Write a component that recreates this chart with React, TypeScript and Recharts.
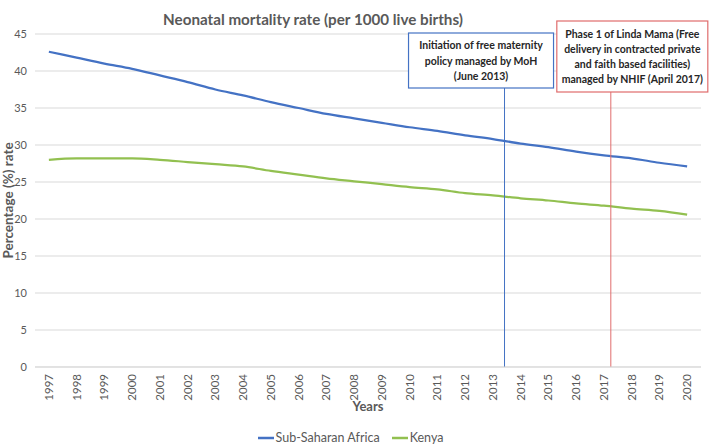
import React from 'react';
import { LineChart, Line, XAxis, YAxis, CartesianGrid, Legend, ReferenceLine, Label } from 'recharts';

const FONT = 'Lato, "Noto Sans", sans-serif';

const years = [1997, 1998, 1999, 2000, 2001, 2002, 2003, 2004, 2005, 2006, 2007, 2008, 2009, 2010, 2011, 2012, 2013, 2014, 2015, 2016, 2017, 2018, 2019, 2020];
const subSaharanAfrica = [42.6, 41.8, 41.0, 40.3, 39.4, 38.5, 37.5, 36.7, 35.8, 35.0, 34.2, 33.6, 33.0, 32.4, 31.9, 31.3, 30.8, 30.2, 29.7, 29.1, 28.6, 28.2, 27.6, 27.1];
const kenya = [28.0, 28.2, 28.2, 28.2, 28.0, 27.7, 27.4, 27.1, 26.5, 26.0, 25.5, 25.1, 24.7, 24.3, 24.0, 23.5, 23.2, 22.8, 22.5, 22.1, 21.8, 21.4, 21.1, 20.6];
const yTicks = [0, 5, 10, 15, 20, 25, 30, 35, 40, 45];
const seriesOrder = ['Sub-Saharan Africa', 'Kenya'];

const eventMoH = 2013.42; // June 2013
const eventNHIF = 2017.25; // April 2017
const mohText = ['Initiation of free maternity', 'policy managed by MoH', '(June 2013)'];
const nhifText = ['Phase 1 of Linda Mama (Free', 'delivery in contracted private', 'and faith based facilities)', 'managed by NHIF (April 2017)'];

const data = years.map((y, i) => ({ year: y, ssa: subSaharanAfrica[i], kenya: kenya[i] }));

const BLUE = '#4472C4';
const GREEN = '#92C050';
const RED = '#E06C6C';

const YearTick = (props: any) => {
  const { x, y, payload } = props;
  const ty = y + 7;
  return (
    <text
      x={x}
      y={ty}
      dy={4}
      transform={`rotate(-90, ${x}, ${ty})`}
      textAnchor="end"
      fontSize={11.5}
      fontFamily={FONT}
      fill="#595959"
    >
      {payload.value}
    </text>
  );
};

const makeBox = (lines: string[], color: string, left: number, right: number, top: number, bottom: number) =>
  (props: any) => {
    const vb = props.viewBox || {};
    const lx = vb.x;
    const x0 = lx + left;
    const x1 = lx + right;
    const y0 = vb.y + top;
    const y1 = vb.y + bottom;
    const cx = (x0 + x1) / 2;
    const cy = (y0 + y1) / 2;
    const spacing = 15.3;
    const startY = cy - ((lines.length - 1) * spacing) / 2;
    return (
      <g>
        <rect x={x0} y={y0} width={x1 - x0} height={y1 - y0} fill="#ffffff" stroke={color} strokeWidth={1.2} />
        {lines.map((t, i) => (
          <text
            key={i}
            x={cx}
            y={startY + i * spacing}
            dy={4}
            textAnchor="middle"
            fontSize={10.5}
            fontWeight="bold"
            fontFamily={FONT}
            fill="#262626"
          >
            {t}
          </text>
        ))}
      </g>
    );
  };

const renderLegend = (props: any) => {
  const payload = [...(props.payload || [])].sort(
    (a: any, b: any) => seriesOrder.indexOf(a.value) - seriesOrder.indexOf(b.value)
  );
  return (
    <div style={{ display: 'flex', justifyContent: 'center', gap: 12, fontFamily: FONT, fontSize: 12.5, color: '#595959', lineHeight: '20px', paddingTop: 6 }}>
      {payload.map((p: any) => (
        <span key={p.value} style={{ display: 'inline-flex', alignItems: 'center' }}>
          <svg width={16} height={4} style={{ marginRight: 2 }}>
            <line x1={0} y1={2} x2={16} y2={2} stroke={p.color} strokeWidth={2.5} />
          </svg>
          {p.value}
        </span>
      ))}
    </div>
  );
};

export default function App() {
  return (
    <div style={{ position: 'absolute', left: 0, top: 0, width: 709, height: 446, background: '#fff' }}>
      <div
        style={{
          position: 'absolute',
          left: 6,
          top: 8,
          width: 614,
          textAlign: 'center',
          fontFamily: FONT,
          fontWeight: 'bold',
          fontSize: 15.2,
          color: '#595959',
          lineHeight: '22px',
        }}
      >
        Neonatal mortality rate (per 1000 live births)
      </div>
      <LineChart width={709} height={446} data={data} margin={{ top: 34, right: 8, bottom: 0, left: 0 }}>
        <CartesianGrid vertical={false} stroke="#d9d9d9" />
        <XAxis
          dataKey="year"
          type="number"
          domain={[1996.5, 2020.5]}
          ticks={years}
          interval={0}
          tick={<YearTick />}
          tickLine={false}
          tickSize={0}
          tickMargin={0}
          height={55}
          stroke="#d9d9d9"
        >
          <Label
            value="Years"
            position="insideBottom"
            offset={11}
            style={{ fontFamily: FONT, fontWeight: 'bold', fontSize: 13, fill: '#595959' }}
          />
        </XAxis>
        <YAxis
          domain={[0, 45]}
          ticks={yTicks}
          width={35}
          axisLine={false}
          tickLine={false}
          tickSize={0}
          tickMargin={8}
          tick={{ fontSize: 11, fontFamily: FONT, fill: '#595959' }}
        >
          <Label
            content={(p: any) => {
              const vb = p.viewBox || {};
              const x = 13;
              const y = vb.y + vb.height / 2;
              return (
                <text
                  x={x}
                  y={y}
                  transform={`rotate(-90, ${x}, ${y})`}
                  textAnchor="middle"
                  fontSize={13.5}
                  fontWeight="bold"
                  fontFamily={FONT}
                  fill="#595959"
                >
                  Percentage (%) rate
                </text>
              );
            }}
          />
        </YAxis>
        <Line
          type="monotone"
          dataKey="ssa"
          name="Sub-Saharan Africa"
          stroke={BLUE}
          strokeWidth={2.25}
          dot={false}
          isAnimationActive={false}
        />
        <Line
          type="monotone"
          dataKey="kenya"
          name="Kenya"
          stroke={GREEN}
          strokeWidth={2.25}
          dot={false}
          isAnimationActive={false}
        />
        <ReferenceLine
          x={eventMoH}
          stroke={BLUE}
          strokeWidth={1}
          label={makeBox(mohText, BLUE, -96, 49, -1, 54)}
        />
        <ReferenceLine
          x={eventNHIF}
          stroke={RED}
          strokeWidth={1}
          label={makeBox(nhifText, RED, -54, 97, -13, 58)}
        />
        <Legend verticalAlign="bottom" height={24} content={renderLegend} />
      </LineChart>
    </div>
  );
}
